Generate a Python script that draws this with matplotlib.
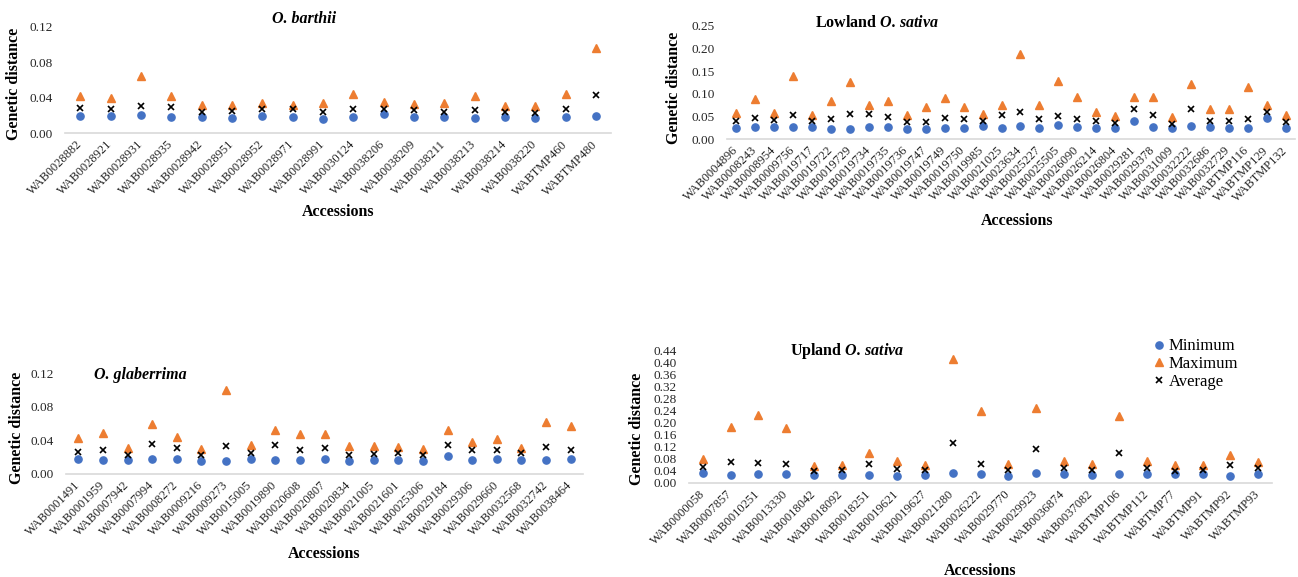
import matplotlib
matplotlib.use("Agg")
import matplotlib.pyplot as plt

plt.rcParams['font.family'] = ['Liberation Serif', 'DejaVu Serif']
plt.rcParams['mathtext.fontset'] = 'custom'
plt.rcParams['mathtext.rm'] = 'Liberation Serif'
plt.rcParams['mathtext.it'] = 'Liberation Serif:italic'
plt.rcParams['mathtext.bf'] = 'Liberation Serif:bold'
plt.rcParams['mathtext.bfit'] = 'Liberation Serif:bold:italic'

# ---- O. barthii ----
barthii_acc = ['WAB0028882', 'WAB0028921', 'WAB0028931', 'WAB0028935', 'WAB0028942',
               'WAB0028951', 'WAB0028952', 'WAB0028971', 'WAB0028991', 'WAB0030124',
               'WAB0038206', 'WAB0038209', 'WAB0038211', 'WAB0038213', 'WAB0038214',
               'WAB0038220', 'WABTMP460', 'WABTMP480']
barthii_min = [0.0196, 0.019, 0.020, 0.018, 0.018, 0.017, 0.019, 0.018, 0.016, 0.018,
               0.021, 0.018, 0.018, 0.017, 0.018, 0.017, 0.018, 0.019]
barthii_max = [0.042, 0.040, 0.064, 0.042, 0.032, 0.032, 0.034, 0.032, 0.034, 0.044,
               0.035, 0.033, 0.034, 0.042, 0.030, 0.031, 0.044, 0.096]
barthii_avg = [0.0286, 0.027, 0.031, 0.029, 0.024, 0.025, 0.027, 0.027, 0.024, 0.027,
               0.027, 0.026, 0.024, 0.026, 0.024, 0.023, 0.027, 0.043]

# ---- Lowland O. sativa ----
lowland_acc = ['WAB0004896', 'WAB0008243', 'WAB0008954', 'WAB0009756', 'WAB0019717',
               'WAB0019722', 'WAB0019729', 'WAB0019734', 'WAB0019735', 'WAB0019736',
               'WAB0019747', 'WAB0019749', 'WAB0019750', 'WAB0019985', 'WAB0021025',
               'WAB0023634', 'WAB0025227', 'WAB0025505', 'WAB0026090', 'WAB0026214',
               'WAB0026804', 'WAB0029281', 'WAB0029378', 'WAB0031009', 'WAB0032222',
               'WAB0032686', 'WAB0032729', 'WABTMP116', 'WABTMP129', 'WABTMP132']
lowland_min = [0.025, 0.027, 0.027, 0.027, 0.027, 0.023, 0.023, 0.027, 0.027, 0.023,
               0.023, 0.025, 0.024, 0.028, 0.024, 0.028, 0.024, 0.030, 0.026, 0.024,
               0.024, 0.039, 0.027, 0.024, 0.028, 0.027, 0.024, 0.024, 0.046, 0.024]
lowland_max = [0.058, 0.088, 0.058, 0.139, 0.053, 0.084, 0.126, 0.075, 0.084, 0.053,
               0.070, 0.091, 0.070, 0.056, 0.075, 0.189, 0.075, 0.128, 0.093, 0.060,
               0.050, 0.092, 0.092, 0.048, 0.121, 0.067, 0.067, 0.114, 0.075, 0.054]
lowland_avg = [0.040, 0.047, 0.041, 0.052, 0.040, 0.044, 0.055, 0.055, 0.049, 0.038,
               0.038, 0.047, 0.044, 0.040, 0.054, 0.060, 0.044, 0.051, 0.044, 0.039,
               0.036, 0.066, 0.053, 0.034, 0.066, 0.039, 0.039, 0.044, 0.060, 0.038]

# ---- O. glaberrima ----
glab_acc = ['WAB0001491', 'WAB0001959', 'WAB0007942', 'WAB0007994', 'WAB0008272',
            'WAB0009216', 'WAB0009273', 'WAB0015005', 'WAB0019890', 'WAB0020608',
            'WAB0020807', 'WAB0020834', 'WAB0021005', 'WAB0021601', 'WAB0025306',
            'WAB0029184', 'WAB0029306', 'WAB0029660', 'WAB0032568', 'WAB0032742',
            'WAB0038464']
glab_min = [0.018, 0.017, 0.017, 0.018, 0.018, 0.015, 0.015, 0.018, 0.017, 0.017,
            0.018, 0.015, 0.017, 0.017, 0.015, 0.021, 0.017, 0.018, 0.017, 0.017,
            0.018]
glab_max = [0.043, 0.049, 0.031, 0.059, 0.044, 0.030, 0.100, 0.035, 0.052, 0.048,
            0.047, 0.033, 0.033, 0.032, 0.030, 0.052, 0.038, 0.041, 0.031, 0.062,
            0.057]
glab_avg = [0.026, 0.029, 0.023, 0.036, 0.031, 0.023, 0.033, 0.025, 0.034, 0.029,
            0.031, 0.023, 0.024, 0.025, 0.023, 0.034, 0.029, 0.029, 0.025, 0.032,
            0.029]

# ---- Upland O. sativa ----
upland_acc = ['WAB0000058', 'WAB0007857', 'WAB0010251', 'WAB0013330', 'WAB0018042',
              'WAB0018092', 'WAB0018251', 'WAB0019621', 'WAB0019627', 'WAB0021280',
              'WAB0026222', 'WAB0029770', 'WAB0029923', 'WAB0036874', 'WAB0037082',
              'WABTMP106', 'WABTMP112', 'WABTMP77', 'WABTMP91', 'WABTMP92', 'WABTMP93']
upland_min = [0.032, 0.027, 0.029, 0.029, 0.027, 0.027, 0.027, 0.024, 0.027, 0.034,
              0.028, 0.022, 0.034, 0.030, 0.027, 0.029, 0.030, 0.028, 0.028, 0.024,
              0.029]
upland_max = [0.079, 0.187, 0.227, 0.181, 0.057, 0.059, 0.098, 0.072, 0.060, 0.412,
              0.239, 0.062, 0.250, 0.072, 0.062, 0.224, 0.074, 0.058, 0.058, 0.093,
              0.069]
upland_avg = [0.053, 0.070, 0.067, 0.064, 0.040, 0.044, 0.064, 0.047, 0.042, 0.134,
              0.064, 0.044, 0.112, 0.049, 0.044, 0.100, 0.049, 0.040, 0.042, 0.060,
              0.050]

BLUE = '#4472C4'
ORANGE = '#ED7D31'
W, H = 1298.0, 577.0


def px_axes(fig, left, top, right, bottom):
    """Add axes from pixel box (origin top-left)."""
    return fig.add_axes([left / W, 1 - bottom / H, (right - left) / W, (bottom - top) / H])


def panel(ax, acc, vmin, vmax, vavg, yticks, title, title_xy, ylab_xy, xlab_xy,
          title_style='normal'):
    x = list(range(len(acc)))
    ax.plot(x, vmin, 'o', color=BLUE, ms=5.2, ls='none', label='Minimum')
    ax.plot(x, vmax, '^', color=ORANGE, ms=5.4, ls='none', label='Maximum')
    ax.plot(x, vavg, 'x', color='black', ms=4.2, mew=1.2, ls='none', label='Average')
    ax.set_xlim(-0.5, len(acc) - 0.5)
    ax.set_ylim(yticks[0], yticks[-1])
    ax.set_yticks(yticks)
    ax.set_yticklabels(['%.2f' % v for v in yticks], fontsize=9.5, color='#262626')
    ax.set_xticks(x)
    ax.set_xticklabels(acc, rotation=45, ha='right', va='center',
                       rotation_mode='anchor', fontsize=9, color='#262626')
    ax.tick_params(axis='both', length=0)
    ax.tick_params(axis='x', pad=7)
    ax.tick_params(axis='y', pad=9)
    for s in ('top', 'right', 'left'):
        ax.spines[s].set_visible(False)
    ax.spines['bottom'].set_color('#D9D9D9')
    ax.spines['bottom'].set_linewidth(1.2)
    ax.patch.set_alpha(0)

    ax.set_ylabel('Genetic distance', fontsize=11.5, fontweight='bold')
    ax.yaxis.set_label_coords(*ylab_xy)
    ax.set_xlabel('Accessions', fontsize=11.5, fontweight='bold')
    ax.xaxis.set_label_coords(*xlab_xy)
    ax.text(title_xy[0], title_xy[1], title, transform=ax.transAxes,
            ha='center', va='center', fontsize=11.5, fontweight='bold',
            fontstyle=title_style)


fig = plt.figure(figsize=(12.98, 5.77), dpi=100)

ax1 = px_axes(fig, 65, 26.7, 611, 133)
panel(ax1, barthii_acc, barthii_min, barthii_max, barthii_avg,
      [0.0, 0.04, 0.08, 0.12], 'O. barthii', (0.438, 1.07),
      (-0.079, 0.46), (0.5, -0.67), title_style='italic')

ax2 = px_axes(fig, 727, 26, 1295, 139)
panel(ax2, lowland_acc, lowland_min, lowland_max, lowland_avg,
      [0.0, 0.05, 0.10, 0.15, 0.20, 0.25], r'Lowland $\bfit{O.\,sativa}$', (0.264, 1.03),
      (-0.079, 0.45), (0.51, -0.655))

ax3 = px_axes(fig, 66, 373, 583, 474)
panel(ax3, glab_acc, glab_min, glab_max, glab_avg,
      [0.0, 0.04, 0.08, 0.12], 'O. glaberrima', (0.143, 0.98),
      (-0.079, 0.455), (0.5, -0.71), title_style='italic')

ax4 = px_axes(fig, 689, 350.7, 1272, 482.7)
panel(ax4, upland_acc, upland_min, upland_max, upland_avg,
      [round(0.04 * i, 2) for i in range(12)], r'Upland $\bfit{O.\,sativa}$', (0.271, 0.998),
      (-0.075, 0.41), (0.50, -0.61))

ax4.legend(loc='center left', bbox_to_anchor=(1154 / W, 1 - 364 / H),
           bbox_transform=fig.transFigure, frameon=False, fontsize=12,
           handlelength=0.6, handletextpad=0.3, labelspacing=0.1,
           borderpad=0, borderaxespad=0)

fig.savefig('out.png', dpi=100)
